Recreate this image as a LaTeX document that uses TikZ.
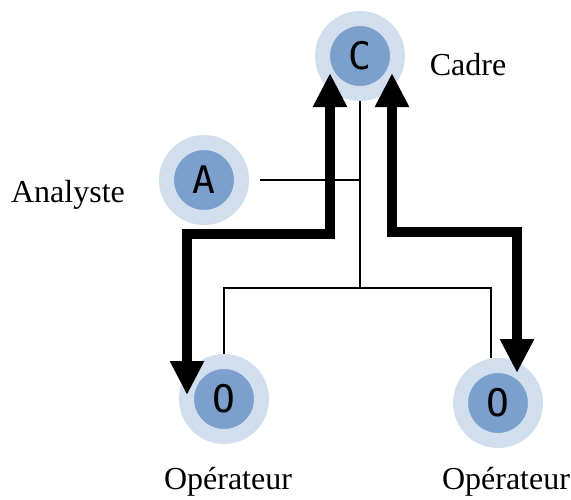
\documentclass[tikz,border=0pt]{standalone}
\usepackage{fontspec}
\setmainfont{Liberation Serif}
\newfontfamily\letterfont{DejaVu Sans Mono}
\usepackage{xcolor}
\usepackage{tikz}
\usetikzlibrary{positioning}
\usetikzlibrary{arrows.meta}
\definecolor{ringBlue}{RGB}{209,222,238}
\definecolor{coreBlue}{RGB}{123,160,205}
\tikzset{%
  actor/.style={circle, fill=coreBlue, draw=ringBlue, line width=7.5pt, minimum size=37.5pt, inner sep=0pt, font=\letterfont\fontsize{19}{22}\selectfont},
  roleLabel/.style={font=\fontsize{16}{19}\selectfont},
  % ---
  % links
  % ---
  wire/.style={draw=black, line width=0.6pt},
  flow/.style={draw=black, line width=5pt, {Triangle[length=17pt,width=16pt]}-{Triangle[length=17pt,width=16pt]}}
}

\begin{document}
\begin{tikzpicture}[x=0.5pt, y=-0.5pt]
    \useasboundingbox (0,0) rectangle (571,499);

    \node[actor] (cadre) at (360,56) {C};
    \node[actor] (analyste) at (204,180) {A};
    \node[actor] (op1) at (224,399) {O};
    \node[actor] (op2) at (498,403) {O};

    \node[roleLabel] (lcadre) at (468,65) {Cadre};
    \node[roleLabel] (lanalyste) at (68,195) {Analyste};
    \node[roleLabel] (lop1) at (228,482) {Opérateur};
    \node[roleLabel] (lop2) at (506,482) {Opérateur};

    \coordinate (bus) at (360,288);
    \draw[wire] (cadre.south) -- (bus);
    \draw[wire, shorten <=5.5pt] (analyste.east) -- (analyste.east -| bus);
    \draw[wire] (op1.north) |- (bus) -| ([xshift=-3.5pt]op2.north);

    \coordinate (tipC1) at (330,73);
    \coordinate (tipO1) at (187,395);
    \coordinate (tipC2) at (392,73);
    \coordinate (tipO2) at (517,373);
    \draw[flow] (tipC1) -- (tipC1 |- 0,234) -| (tipO1);
    \draw[flow] (tipC2) -- (tipC2 |- 0,232) -| (tipO2);
\end{tikzpicture}
\end{document}
